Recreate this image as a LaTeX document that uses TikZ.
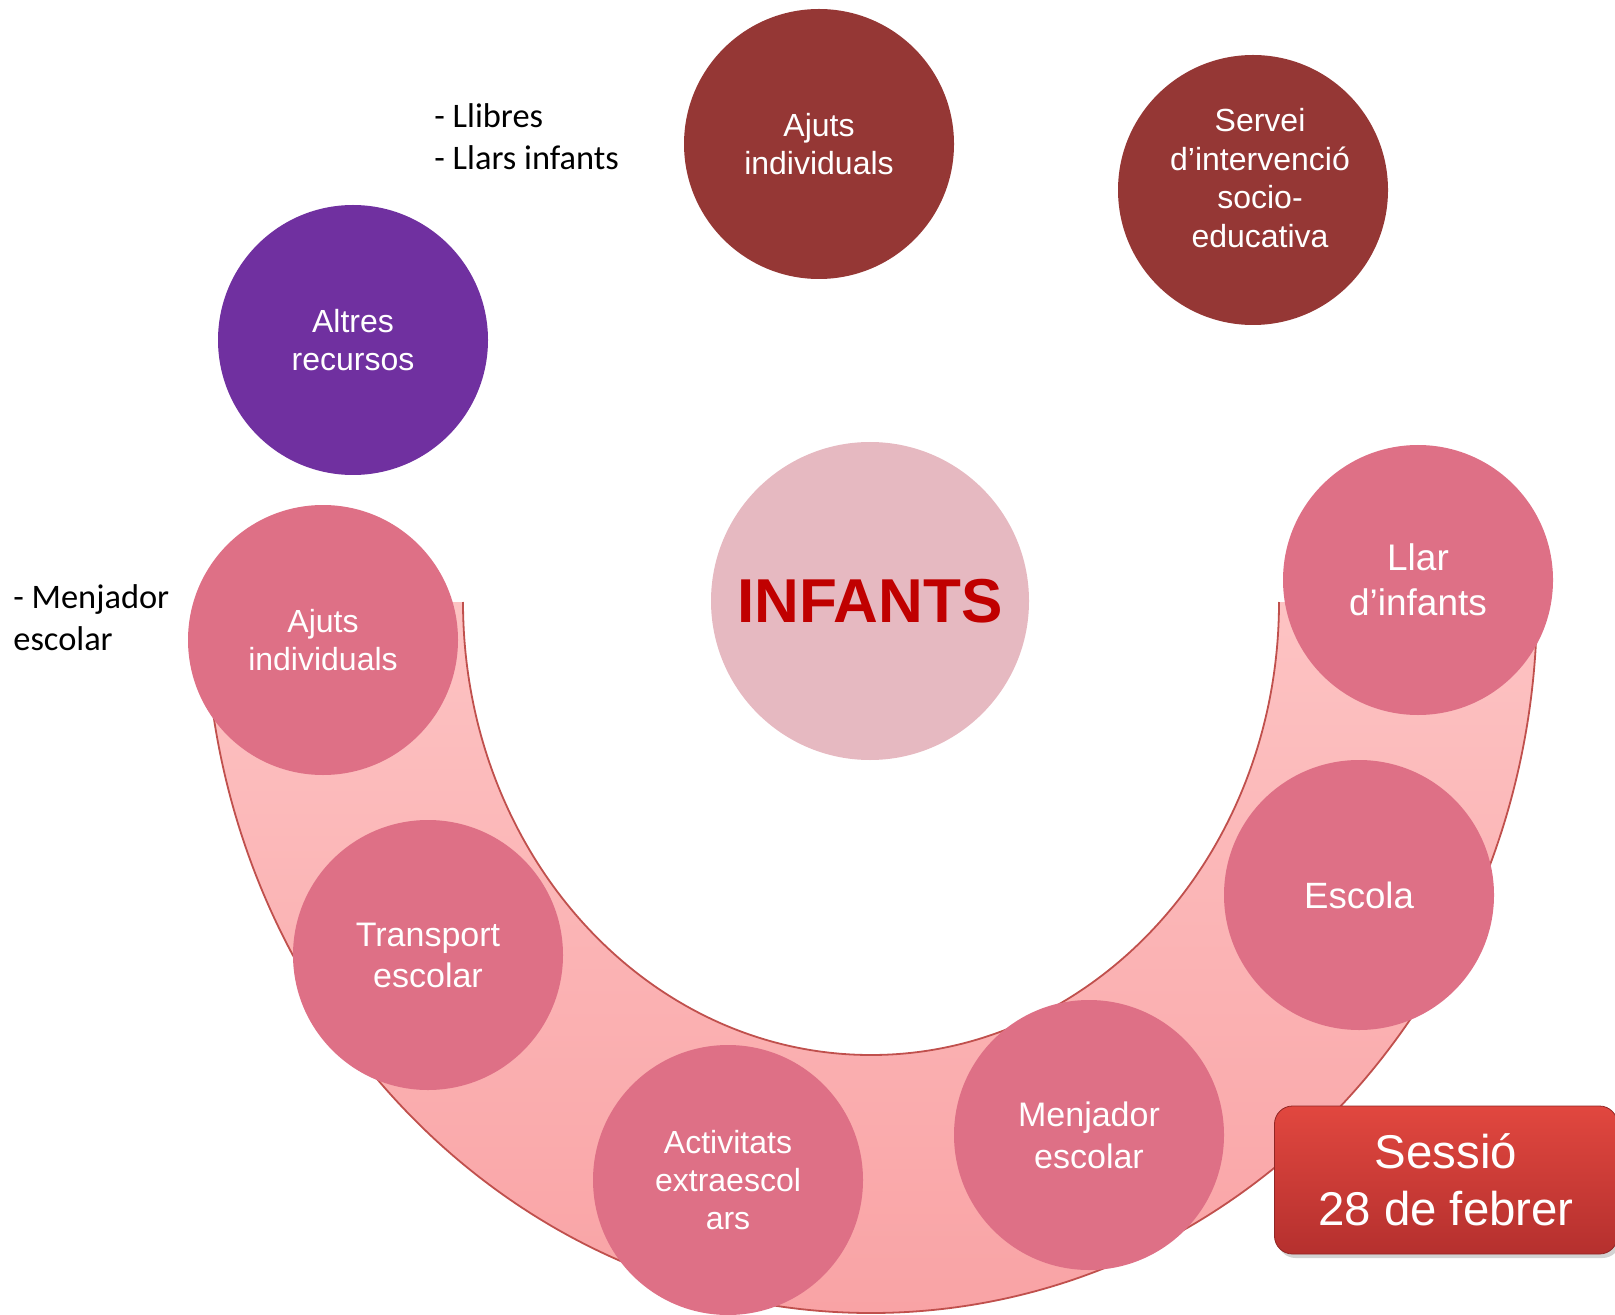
\documentclass[tikz,border=0pt]{standalone}
\usepackage{fontspec}
\setmainfont{Liberation Sans}
\newfontfamily\calibri{Carlito}
\usetikzlibrary{shadows}
\definecolor{rosepink}{HTML}{DE7086}
\definecolor{wine}{HTML}{953735}
\definecolor{purplecirc}{HTML}{7030A0}
\definecolor{blush}{HTML}{E6B9C1}
\definecolor{infred}{HTML}{C00000}
\definecolor{bandtop}{HTML}{FDC3C3}
\definecolor{bandbot}{HTML}{F9A3A5}
\definecolor{bandline}{HTML}{C0504D}
\definecolor{tagtop}{HTML}{E1473F}
\definecolor{tagbot}{HTML}{B5302E}
\tikzset{
% circles of resources: one base style and its colours
res node/.style={circle,inner sep=0,minimum size=135pt,align=center,text=white,
  font=\fontsize{16}{19.2}\selectfont},
pink node/.style={res node,fill=rosepink},
wine node/.style={res node,fill=wine},
purple node/.style={res node,fill=purplecirc},
note/.style={font=\calibri\fontsize{17.2}{21}\selectfont,align=left,anchor=west,inner sep=0}
}

\begin{document}
\begin{tikzpicture}[x=0.5pt,y=-0.5pt]
		\useasboundingbox (0,0) rectangle (1615,1315);
		% The band under the lower circles
		\shade[top color=bandtop,bottom color=bandbot]
			(205,602) arc[start angle=180,end angle=360,x radius=333pt,y radius=355.5pt]
			-- (1279,602) arc[start angle=0,end angle=-180,x radius=204pt,y radius=226.5pt] -- cycle;
		\draw[bandline,line width=0.9pt] (205,602) arc[start angle=180,end angle=360,x radius=333pt,y radius=355.5pt];
		\draw[bandline,line width=0.9pt] (463,602) arc[start angle=180,end angle=360,x radius=204pt,y radius=226.5pt];
		% The centre
		\node(infants)[circle,inner sep=0,minimum size=159pt,fill=blush,text=infred,
			font=\bfseries\fontsize{31}{36}\selectfont] at (870,601) {INFANTS};
		% Upper circles
		\node(ajutsup)[wine node] at (819,144) {Ajuts\\individuals};
		\node(servei)[wine node,label={[align=center,text=white,font=\fontsize{16}{19.2}\selectfont,
			xshift=3.5pt,yshift=6pt]center:Servei\\d’intervenció\\socio-\\educativa}] at (1253,190) {};
		\node(altres)[purple node] at (353,340) {Altres\\recursos};
		% Circles on the band
		\node(ajutsleft)[pink node] at (323,640) {Ajuts\\individuals};
		\node(transport)[pink node,font=\fontsize{17}{20.5}\selectfont] at (428,955) {Transport\\escolar};
		\node(activitats)[pink node] at (728,1180) {Activitats\\extraescol\\ars};
		\node(menjador)[pink node,font=\fontsize{17}{21}\selectfont] at (1089,1135) {Menjador\\escolar};
		\node(escola)[pink node,font=\fontsize{18.3}{22}\selectfont] at (1359,895) {Escola};
		\node(llar)[pink node,font=\fontsize{18.5}{22.5}\selectfont] at (1418,580) {Llar\\d’infants};
		% notes
		\node(notellibres)[note] at (434,137) {- Llibres\\- Llars infants};
		\node(notemenjador)[note] at (13,618) {- Menjador\\escolar};
		% session tag
		\node(sessio)[rounded corners=9pt,minimum width=171.5pt,minimum height=74pt,
			top color=tagtop,bottom color=tagbot,draw=tagbot!80!black,line width=0.4pt,
			drop shadow={opacity=0.35,shadow xshift=1.5pt,shadow yshift=-2pt},
			text=white,align=center,font=\fontsize{23.7}{28.4}\selectfont] at (1446,1180) {Sessió\\28 de febrer};
	\end{tikzpicture}
\end{document}
